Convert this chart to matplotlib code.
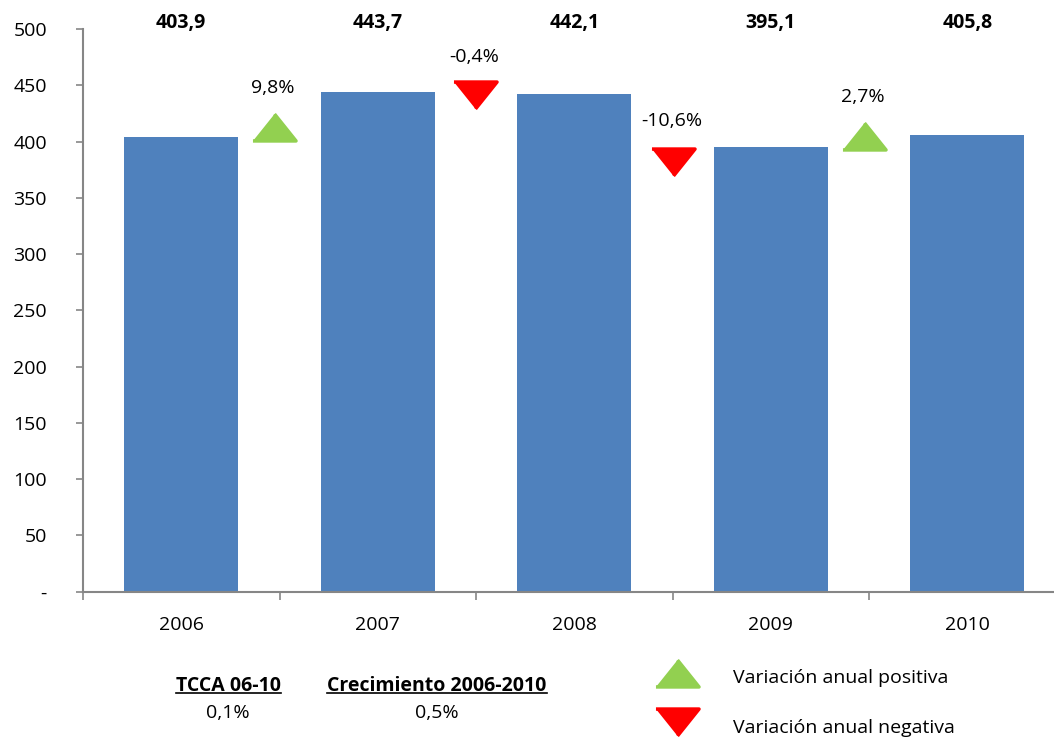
import numpy as np
import matplotlib.pyplot as plt
from matplotlib.lines import Line2D

plt.rcParams["font.family"] = ["Open Sans", "DejaVu Sans"]

# Data
years = ["2006", "2007", "2008", "2009", "2010"]
values = [403.9, 443.7, 442.1, 395.1, 405.8]
value_labels = ["403,9", "443,7", "442,1", "395,1", "405,8"]

# Year-on-year change markers (between bars)
change_labels = ["9,8%", "-0,4%", "-10,6%", "2,7%"]
change_up = [True, False, False, True]
marker_x = [0.472, 1.497, 2.50, 3.474]
marker_y = [413, 441, 382, 405]
label_y = [448, 475, 418, 440]

ytick_vals = [0, 50, 100, 150, 200, 250, 300, 350, 400, 450, 500]
ytick_labels = ["-", "50", "100", "150", "200", "250", "300", "350", "400", "450", "500"]

BAR_COLOR = "#4F81BD"
UP_COLOR = "#92D050"
DOWN_COLOR = "#FF0000"
AXIS_COLOR = "#868686"
FS = 14

W, H = 1054, 739
fig = plt.figure(figsize=(W / 100, H / 100), dpi=100)
ax = fig.add_axes([83 / W, 1 - 591.5 / H, (W - 83) / W, (591.5 - 29) / H])

x = np.arange(len(years))
ax.bar(x, values, width=0.58, color=BAR_COLOR, zorder=2)

ax.set_xlim(-0.5, -0.5 + (W - 83) / 196.5)
ax.set_ylim(0, 500)

# flattened triangle markers (rounded corners via round joins)
up_tri = [(-1, -0.625), (1, -0.625), (0, 0.625)]
down_tri = [(-1, 0.625), (1, 0.625), (0, -0.625)]
for mx, my, up, lab, ly in zip(marker_x, marker_y, change_up, change_labels, label_y):
    c = UP_COLOR if up else DOWN_COLOR
    ax.plot(mx, my, marker=up_tri if up else down_tri, markersize=31,
            color=c, markeredgewidth=2.5, markeredgecolor=c, linestyle="none",
            clip_on=False, zorder=3, solid_joinstyle="round")
    ax.text(mx - 0.005, ly, lab, ha="center", va="center", fontsize=FS, zorder=4)

# bold totals on top
for xi, lab in zip(x, value_labels):
    ax.text(xi, 505, lab, ha="center", va="center", fontsize=FS,
            fontweight="bold", clip_on=False)

# axes styling
for s in ["top", "right"]:
    ax.spines[s].set_visible(False)
for s in ["left", "bottom"]:
    ax.spines[s].set_color(AXIS_COLOR)
    ax.spines[s].set_linewidth(1.5)

ax.set_yticks(ytick_vals)
ax.set_yticklabels(ytick_labels, fontsize=FS)
ax.tick_params(axis="y", direction="out", length=5, width=1.2, color=AXIS_COLOR, pad=21)

ax.set_xticks(np.arange(-0.5, 4.5, 1.0))
ax.set_xticklabels([])
ax.set_xticks(x, minor=True)
ax.set_xticklabels(years, minor=True, fontsize=FS)
ax.tick_params(axis="x", which="major", direction="out", length=6, width=1.2, color=AXIS_COLOR)
ax.tick_params(axis="x", which="minor", length=0, pad=18)

# bottom notes
def underlined(xp, yp, s):
    t = fig.text(xp / W, 1 - yp / H, s, ha="center", va="center",
                 fontsize=FS, fontweight="bold")
    return t

notes = [underlined(228, 686, "TCCA 06-10"),
         underlined(437, 686, "Crecimiento 2006-2010")]
fig.text(228 / W, 1 - 713 / H, "0,1%", ha="center", va="center", fontsize=FS)
fig.text(437 / W, 1 - 713 / H, "0,5%", ha="center", va="center", fontsize=FS)

# legend
for yp, tri, c in [(673, up_tri, UP_COLOR), (722, down_tri, DOWN_COLOR)]:
    fig.add_artist(Line2D([677 / W], [1 - yp / H], marker=tri, markersize=31,
                          color=c, markeredgecolor=c, markeredgewidth=2.5,
                          linestyle="none", solid_joinstyle="round"))
fig.text(733 / W, 1 - 678 / H, "Variación anual positiva", ha="left", va="center", fontsize=FS)
fig.text(733 / W, 1 - 728 / H, "Variación anual negativa", ha="left", va="center", fontsize=FS)

fig.canvas.draw()
renderer = fig.canvas.get_renderer()
for t in notes:
    bb = t.get_window_extent(renderer).transformed(fig.transFigure.inverted())
    fig.add_artist(Line2D([bb.x0, bb.x1], [bb.y0 + 0.004, bb.y0 + 0.004],
                          color="black", linewidth=1.2))

fig.savefig("out.png", dpi=100)
